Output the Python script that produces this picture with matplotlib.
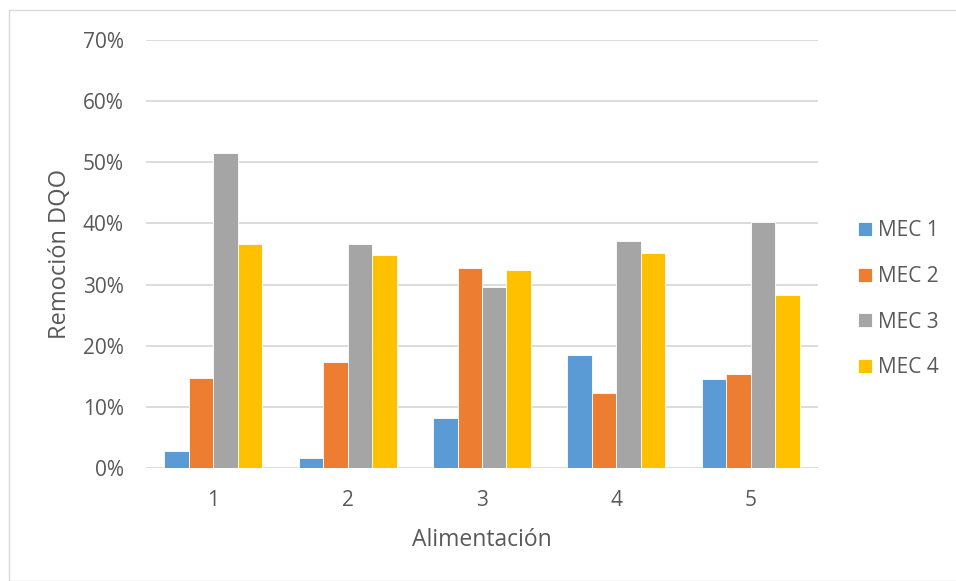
import numpy as np
import matplotlib.pyplot as plt
from matplotlib.patches import Rectangle
from matplotlib.ticker import PercentFormatter

plt.rcParams['font.family'] = ['Open Sans', 'DejaVu Sans']

# Alimentación (feed cycles) and COD removal per cell
feeds = ['1', '2', '3', '4', '5']
mec1 = [2.8, 1.6, 8.2, 18.4, 14.6]
mec2 = [14.8, 17.4, 32.7, 12.2, 15.4]
mec3 = [51.5, 36.7, 29.6, 37.2, 40.2]
mec4 = [36.7, 34.8, 32.4, 35.2, 28.3]
series = ['MEC 1', 'MEC 2', 'MEC 3', 'MEC 4']
colors = ['#5b9bd5', '#ed7d31', '#a5a5a5', '#ffc000']

fig = plt.figure(figsize=(9.56, 5.81), dpi=100)
ax = fig.add_axes([146/956, 1 - 468/581, 672/956, 428/581])

# light frame around the chart area
fig.patches.append(Rectangle((9/956, 0), 1, 1 - 10/581, transform=fig.transFigure,
                             fill=False, edgecolor='#d9d9d9', linewidth=1))

x = np.arange(len(feeds))
w = 0.182
for i, (vals, name) in enumerate(zip([mec1, mec2, mec3, mec4], series)):
    ax.bar(x + (i - 1.5) * w, vals, w, color=colors[i], label=name,
           edgecolor='white', linewidth=0.6, zorder=3)

ax.set_xlim(-0.5, 4.5)
ax.set_ylim(0, 70)
ax.set_yticks(np.arange(0, 71, 10))
ax.yaxis.set_major_formatter(PercentFormatter(decimals=0))
ax.set_xticks(x)
ax.set_xticklabels(feeds)
ax.grid(axis='y', color='#d9d9d9', linewidth=1.3, zorder=0)
for s in ax.spines.values():
    s.set_visible(False)
ax.tick_params(length=0, labelsize=15, colors='#595959')
ax.tick_params(axis='x', pad=16)
ax.tick_params(axis='y', pad=16)

ax.set_xlabel('Alimentación', fontsize=16.5, color='#595959', labelpad=12)
ax.set_ylabel('Remoción DQO', fontsize=17, color='#595959', labelpad=8)

ax.legend(loc='center left', bbox_to_anchor=(1.032, 0.394), frameon=False,
          fontsize=15, labelcolor='#595959', handlelength=0.67, handleheight=0.67,
          labelspacing=1.18, handletextpad=0.3)

plt.savefig('out.png', dpi=100)
